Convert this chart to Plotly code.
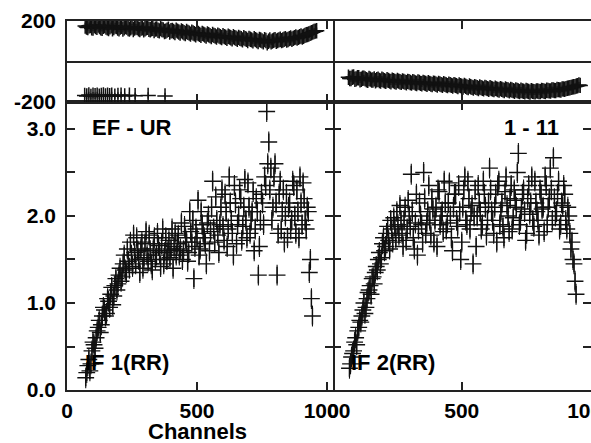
import plotly.graph_objects as go

# ---------------- data ----------------
# amplitude, left panel (EF - UR, IF 1 RR): two interleaved channel sets
amp_left_start = 72          # channels 72, 80, 88, ...
amp_left = [0.14, 0.28, 0.22, 0.45, 0.52, 0.60, 0.72, 0.66, 0.85, 0.92,
            0.88, 1.02, 1.10, 0.98, 1.20, 1.15, 1.32, 1.25, 1.45, 1.38,
            1.62, 1.40, 1.55, 1.78, 1.45, 1.60, 1.35, 1.70, 1.52, 1.82,
            1.48, 1.60, 1.38, 1.75, 1.55, 1.66, 1.42, 1.85, 1.58, 1.50,
            1.72, 1.62, 1.40, 1.80, 1.68, 1.55, 1.92, 1.60, 1.75, 1.48,
            2.05, 1.70, 1.28, 1.85, 2.18, 1.62, 1.90, 1.75, 1.45, 2.00,
            1.82, 2.40, 1.70, 1.95, 1.58, 2.10, 1.88, 2.25, 1.65, 2.45,
            1.95, 1.55, 2.15, 1.90, 2.30, 1.72, 2.10, 1.95, 2.38, 1.80,
            2.05, 1.60, 2.20, 1.32, 1.95, 2.15, 2.45, 3.20, 2.85, 2.55,
            2.10, 2.60, 1.32, 2.25, 1.85, 2.30, 2.00, 1.75, 2.15, 1.95,
            2.35, 1.80, 2.05, 2.45, 1.90, 2.20, 1.85, 2.05, 1.50, 0.85]
amp_left_b_start = 76        # channels 76, 84, 92, ...
amp_left_b = [0.20, 0.35, 0.30, 0.55, 0.48, 0.68, 0.80, 0.75, 0.95, 0.85,
              1.05, 0.95, 1.18, 1.08, 1.28, 1.22, 1.40, 1.30, 1.55, 1.35,
              1.48, 1.70, 1.42, 1.58, 1.75, 1.50, 1.62, 1.40, 1.68, 1.55,
              1.78, 1.45, 1.62, 1.50, 1.80, 1.58, 1.68, 1.45, 1.75, 1.60,
              1.52, 1.85, 1.65, 1.55, 1.78, 1.62, 1.50, 1.88, 1.70, 1.58,
              1.82, 1.95, 1.65, 1.75, 1.55, 2.05, 1.80, 1.68, 1.92, 1.60,
              2.10, 1.85, 2.22, 1.78, 1.90, 2.30, 1.72, 2.05, 1.85, 2.15,
              1.80, 2.35, 1.68, 2.00, 2.20, 1.88, 2.42, 1.75, 2.10, 1.95,
              2.28, 1.85, 2.05, 1.65, 2.25, 1.90, 2.35, 2.60, 2.30, 1.95,
              2.45, 2.15, 1.80, 2.40, 2.05, 1.70, 2.25, 2.10, 1.85, 2.40,
              2.00, 2.30, 1.75, 2.15, 2.38, 1.95, 2.10, 1.35, 1.05]

# amplitude, right panel (1 - 11, IF 2 RR)
amp_right_start = 64         # channels 64, 72, 80, ...
amp_right = [0.25, 0.38, 0.45, 0.60, 0.68, 0.80, 0.85, 1.00, 0.95, 1.12,
             1.20, 1.28, 1.22, 1.42, 1.50, 1.45, 1.68, 1.60, 1.80, 1.72,
             1.95, 1.70, 1.88, 2.05, 1.78, 1.95, 1.65, 2.10, 1.85, 2.00,
             2.48, 1.75, 1.92, 1.55, 2.15, 1.90, 2.50, 1.80, 2.05, 1.95,
             2.20, 1.70, 2.10, 2.30, 1.90, 2.05, 2.40, 1.85, 2.15, 2.00,
             1.60, 2.25, 1.95, 2.35, 1.50, 2.10, 2.45, 1.90, 2.20, 2.05,
             1.45, 2.30, 2.00, 2.15, 1.85, 2.40, 2.10, 1.95, 2.55, 2.05,
             1.80, 2.25, 2.35, 1.90, 2.15, 1.75, 2.45, 2.00, 2.20, 1.85,
             2.30, 2.10, 2.72, 1.95, 2.25, 2.05, 1.80, 2.35, 2.15, 1.95,
             2.40, 2.05, 1.78, 2.25, 2.10, 2.45, 1.90, 2.20, 2.30, 2.67,
             2.00, 2.25, 1.85, 2.15, 2.35, 1.95, 2.10, 1.80, 1.70, 1.45,
             1.10]
amp_right_b_start = 68       # channels 68, 76, 84, ...
amp_right_b = [0.30, 0.42, 0.55, 0.52, 0.72, 0.78, 0.92, 0.88, 1.05, 1.15,
               1.10, 1.30, 1.35, 1.38, 1.58, 1.52, 1.75, 1.65, 1.88, 1.62,
               1.85, 1.98, 1.75, 1.90, 2.12, 1.80, 1.95, 1.72, 2.18, 1.88,
               2.05, 1.62, 2.25, 1.85, 2.00, 1.70, 2.20, 1.92, 2.35, 1.78,
               2.08, 1.95, 1.65, 2.28, 2.00, 1.82, 2.15, 1.92, 2.38, 1.75,
               2.10, 2.25, 1.88, 2.05, 1.70, 2.30, 1.95, 2.40, 1.85, 2.12,
               2.00, 1.65, 2.35, 2.05, 1.90, 2.25, 1.78, 2.15, 2.30, 1.95,
               2.10, 1.70, 2.40, 2.05, 1.88, 2.28, 2.12, 1.82, 2.35, 1.98,
               2.18, 2.50, 1.90, 2.08, 2.30, 1.72, 2.20, 2.02, 2.45, 1.88,
               2.15, 1.95, 2.30, 2.08, 1.82, 2.35, 2.10, 2.55, 1.95, 2.20,
               2.05, 2.40, 1.90, 2.12, 2.25, 1.85, 2.00, 1.62, 1.50, 1.25]

# phase (degrees), left panel
ph_left_start = 70           # channels 70, 80, 90, ...
ph_left = [175, 168, 178, 165, 172, 180, 166, 174, 170, 163,
           176, 168, 172, 161, 174, 167, 170, 160, 171, 165,
           168, 158, 166, 162, 169, 157, 164, 160, 154, 163,
           156, 150, 159, 152, 148, 155, 146, 151, 142, 148,
           140, 145, 137, 142, 134, 139, 131, 136, 128, 133,
           126, 130, 122, 127, 120, 125, 117, 122, 115, 119,
           112, 117, 110, 114, 107, 112, 104, 109, 102, 108,
           92, 106, 101, 108, 104, 110, 106, 113, 109, 116,
           114, 121, 119, 126, 125, 132, 136, 142, 148, 152]
ph_left_b_start = 75         # channels 75, 85, 95, ...
ph_left_b = [170, 176, 166, 178, 169, 173, 164, 177, 166, 171,
             162, 175, 165, 170, 160, 172, 163, 167, 158, 170,
             161, 165, 156, 166, 159, 162, 153, 161, 151, 158,
             148, 155, 146, 153, 143, 150, 141, 147, 138, 144,
             135, 141, 132, 138, 129, 135, 126, 132, 123, 129,
             121, 126, 118, 123, 115, 121, 112, 118, 110, 115,
             107, 113, 104, 110, 102, 108, 99, 106, 97, 104,
             100, 97, 105, 100, 107, 103, 110, 106, 113, 110,
             118, 116, 123, 121, 129, 133, 139, 145, 150]

# wrapped phase points of the left panel (just below -180 on the plot)
ph_left_wrap_ch = [68, 76, 84, 92, 100, 108, 116, 124, 132, 140,
                   148, 156, 164, 172, 184, 196, 208, 222, 240, 262, 312, 377]
ph_left_wrap = [-168, -170, -165, -172, -167, -169, -166, -171, -168, -165,
                -170, -167, -169, -166, -171, -168, -166, -170, -167, -169,
                -168, -170]

# phase (degrees), right panel
ph_right_start = 60          # channels 60, 70, 80, ...
ph_right = [-78, -84, -76, -86, -80, -88, -82, -90, -84, -92,
            -86, -90, -94, -88, -95, -90, -97, -92, -99, -94,
            -100, -96, -102, -98, -104, -100, -106, -101, -108, -103,
            -109, -105, -111, -107, -112, -108, -114, -110, -116, -112,
            -118, -114, -120, -116, -122, -118, -126, -121, -128, -124,
            -130, -126, -132, -128, -134, -130, -136, -132, -138, -134,
            -140, -136, -141, -138, -144, -140, -146, -142, -147, -143,
            -148, -144, -149, -145, -148, -143, -147, -142, -145, -140,
            -143, -138, -140, -135, -137, -132, -130, -126, -124, -120,
            -118]
ph_right_b_start = 65        # channels 65, 75, 85, ...
ph_right_b = [-84, -78, -88, -80, -90, -83, -86, -93, -87, -91,
              -95, -88, -96, -91, -98, -93, -100, -95, -101, -97,
              -103, -99, -105, -100, -107, -102, -109, -104, -110, -106,
              -112, -108, -114, -109, -116, -111, -117, -113, -119, -115,
              -121, -117, -124, -119, -126, -122, -129, -125, -131, -127,
              -133, -129, -135, -131, -137, -133, -139, -135, -141, -137,
              -143, -139, -145, -141, -147, -143, -149, -145, -150, -146,
              -151, -147, -150, -146, -149, -144, -148, -143, -146, -141,
              -144, -139, -141, -136, -134, -131, -128, -125, -121, -116]

amp_ticks = [0.0, 0.5, 1.0, 1.5, 2.0, 2.5, 3.0]
amp_ticktext = ["0.0", "", "1.0", "", "2.0", "", "3.0"]
ph_ticks = [-200, 200]
ph_ticktext = ["-200", "200"]
x_ticks = [0, 500, 1000]
x_ticktext = ["0", "500", "1000"]

# ---------------- build ----------------
def chans(start, step, n):
    return [start + step * i for i in range(n)]

INK = "#111111"
FONT = dict(family="Liberation Sans, Arial, sans-serif", size=21, color="#000", weight="bold")

def amp_trace(x, y, xa, ya):
    return go.Scatter(x=x, y=y, xaxis=xa, yaxis=ya, mode="markers",
                      marker=dict(symbol="cross-thin", size=12,
                                  line=dict(color=INK, width=1.4)),
                      error_y=dict(type="constant", value=0.12, color=INK,
                                   thickness=1.1, width=0),
                      showlegend=False, hoverinfo="skip")

def ph_trace(x, y, xa, ya):
    return go.Scatter(x=x, y=y, xaxis=xa, yaxis=ya, mode="markers",
                      marker=dict(symbol="cross-thin", size=11,
                                  line=dict(color=INK, width=1.5)),
                      error_y=dict(type="constant", value=16, color=INK,
                                   thickness=1.2, width=0),
                      showlegend=False, hoverinfo="skip")

fig = go.Figure()
fig.add_trace(amp_trace(chans(amp_left_start, 8, len(amp_left)), amp_left, "x", "y"))
fig.add_trace(amp_trace(chans(amp_left_b_start, 8, len(amp_left_b)), amp_left_b, "x", "y"))
fig.add_trace(amp_trace(chans(amp_right_start, 8, len(amp_right)), amp_right, "x2", "y2"))
fig.add_trace(amp_trace(chans(amp_right_b_start, 8, len(amp_right_b)), amp_right_b, "x2", "y2"))
fig.add_trace(ph_trace(chans(ph_left_start, 10, len(ph_left)), ph_left, "x3", "y3"))
fig.add_trace(ph_trace(chans(ph_left_b_start, 10, len(ph_left_b)), ph_left_b, "x3", "y3"))
fig.add_trace(ph_trace(ph_left_wrap_ch, ph_left_wrap, "x3", "y3"))
fig.add_trace(ph_trace(chans(ph_right_start, 10, len(ph_right)), ph_right, "x4", "y4"))
fig.add_trace(ph_trace(chans(ph_right_b_start, 10, len(ph_right_b)), ph_right_b, "x4", "y4"))

W, H = 591, 443
ML, MR, MT, MB = 67, 0, 21, 53
pw = W - ML - MR
ph = H - MT - MB
xsplit = 266 / pw
ysplit = 288 / ph

def px_x(page_x):
    return (page_x - ML) / pw

def px_y(page_y):
    return (H - MB - page_y) / ph

axis_common = dict(showline=True, linecolor="#222", linewidth=1.5, mirror="ticks",
                   ticks="inside", ticklen=8, tickwidth=1.5, tickcolor="#222",
                   showgrid=False, zeroline=False, tickfont=FONT, automargin=False)
axis_right_y = dict(axis_common, showline=False)

fig.update_layout(
    width=W, height=H, margin=dict(l=ML, r=MR, t=MT, b=MB, autoexpand=False),
    paper_bgcolor="white", plot_bgcolor="white",
    xaxis=dict(domain=[0, xsplit], range=[0, 1023], anchor="y",
               tickvals=x_ticks, ticktext=x_ticktext, ticklabelstandoff=1, **axis_common),
    xaxis2=dict(domain=[xsplit, 1.0], range=[0, 1002], anchor="y2",
                tickvals=x_ticks, ticktext=x_ticktext, ticklabelstandoff=1,
                ticklabeloverflow="allow", **axis_common),
    xaxis3=dict(domain=[0, xsplit], range=[0, 1023], anchor="y3",
                tickvals=x_ticks, showticklabels=False, **axis_common),
    xaxis4=dict(domain=[xsplit, 1.0], range=[0, 1002], anchor="y4",
                tickvals=x_ticks, showticklabels=False, **axis_common),
    yaxis=dict(domain=[0, ysplit], range=[0, 3.31], anchor="x",
               tickvals=amp_ticks, ticktext=amp_ticktext, ticklabelstandoff=5, **axis_common),
    yaxis2=dict(domain=[0, ysplit], range=[0, 3.31], anchor="x2",
                tickvals=amp_ticks, showticklabels=False, **axis_right_y),
    yaxis3=dict(domain=[ysplit, 1.0], range=[-200, 200], anchor="x3",
                tickvals=ph_ticks, ticktext=ph_ticktext, ticklabelstandoff=5, **axis_common),
    yaxis4=dict(domain=[ysplit, 1.0], range=[-200, 200], anchor="x4",
                tickvals=ph_ticks, showticklabels=False, **axis_right_y),
)
fig.update_layout(yaxis3_zeroline=True, yaxis3_zerolinecolor="#222", yaxis3_zerolinewidth=1.5,
                  yaxis4_zeroline=True, yaxis4_zerolinecolor="#222", yaxis4_zerolinewidth=1.5)

ann_font = dict(family="Liberation Sans, Arial, sans-serif", size=22, color="#000", weight="bold")
fig.add_annotation(text="EF - UR", xref="x", yref="y", x=88, y=3.02,
                   xanchor="left", yanchor="middle", showarrow=False, font=ann_font)
fig.add_annotation(text="1 - 11", xref="x2", yref="y2", x=655, y=3.02,
                   xanchor="left", yanchor="middle", showarrow=False, font=ann_font)
fig.add_annotation(text="IF 1(RR)", xref="x", yref="y", x=62, y=0.32,
                   xanchor="left", yanchor="middle", showarrow=False, font=ann_font)
fig.add_annotation(text="IF 2(RR)", xref="x2", yref="y2", x=62, y=0.32,
                   xanchor="left", yanchor="middle", showarrow=False, font=ann_font)
fig.add_annotation(text="Channels", xref="paper", yref="paper",
                   x=px_x(197), y=px_y(431),
                   xanchor="center", yanchor="middle", showarrow=False, font=ann_font)

# the page itself should have no margin or scrollbars, so the figure fills the window
fig.write_html("out.html", config={"displayModeBar": False},
               post_script="document.body.style.margin='0';document.body.style.overflow='hidden';")
